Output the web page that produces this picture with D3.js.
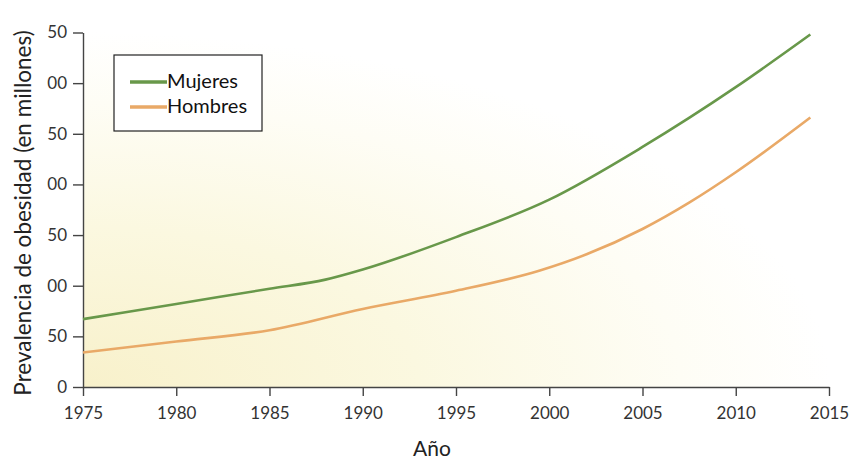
<!DOCTYPE html>
<html>
<head>
<meta charset="utf-8">
<script src="https://cdn.jsdelivr.net/npm/d3@7"></script>
<style>
  body { margin: 0; background: #fff; }
  .axis path, .axis line { stroke: #444; stroke-width: 1.4px; }
  .axis text { fill: #333; font-family: Lato, "Open Sans", sans-serif; font-size: 17px; }
</style>
</head>
<body>
<div id="chart"></div>
<script>
// data
var womenYears = [1975, 1980, 1985, 1988, 1990, 1995, 2000, 2005, 2010, 2014];
var womenValues = [67, 82, 97, 106, 116, 148, 185, 237, 296, 348];
var menYears = [1975, 1980, 1985, 1990, 1995, 1999.5, 2002, 2005, 2007.5, 2010, 2014];
var menValues = [34, 45, 56, 77, 95, 115, 131, 156, 182, 212, 266];
var seriesNames = ["Mujeres", "Hombres"];
var xTicks = [1975, 1980, 1985, 1990, 1995, 2000, 2005, 2010, 2015];
var yTicks = [0, 50, 100, 150, 200, 250, 300, 350];
// the labels are cut off on the left in the original
var yTickLabels = ["0", "50", "00", "50", "00", "50", "00", "50"];

var W = 850, H = 459;
var margin = { left: 83, top: 32, right: 19, bottom: 72 };
var width = W - margin.left - margin.right;
var height = H - margin.top - margin.bottom;

var colors = { Mujeres: "#68984a", Hombres: "#e9a967" };

var svg = d3.select("#chart").append("svg")
    .attr("width", W)
    .attr("height", H);

var defs = svg.append("defs");
var grad = defs.append("radialGradient")
    .attr("id", "glow")
    .attr("cx", 0).attr("cy", 1).attr("r", 1)
    .attr("fx", 0).attr("fy", 1);
grad.append("stop").attr("offset", 0).attr("stop-color", "#f8f1cb");
grad.append("stop").attr("offset", 0.45).attr("stop-color", "#fbf8e0");
grad.append("stop").attr("offset", 0.8).attr("stop-color", "#fefdf5");
grad.append("stop").attr("offset", 1).attr("stop-color", "#ffffff");

var g = svg.append("g")
    .attr("transform", "translate(" + margin.left + "," + margin.top + ")");

g.append("rect")
    .attr("width", width)
    .attr("height", height)
    .attr("fill", "url(#glow)");

var x = d3.scaleLinear().domain([1975, 2015]).range([0, width - 2]);
var y = d3.scaleLinear().domain([0, 350]).range([height, 0.5]);

var xAxis = d3.axisBottom(x)
    .tickValues(xTicks)
    .tickFormat(d3.format("d"))
    .tickSizeInner(9).tickSizeOuter(0).tickPadding(11);

var yAxis = d3.axisLeft(y)
    .tickValues(yTicks)
    .tickFormat(function(d, i) { return yTickLabels[i]; })
    .tickSizeInner(10).tickSizeOuter(0).tickPadding(6);

g.append("g").attr("class", "axis")
    .attr("transform", "translate(0," + height + ")")
    .call(xAxis);

g.append("g").attr("class", "axis")
    .call(yAxis);

var line = d3.line()
    .curve(d3.curveMonotoneX)
    .x(function(d) { return x(d[0]); })
    .y(function(d) { return y(d[1]); });

var women = d3.zip(womenYears, womenValues);
var men = d3.zip(menYears, menValues);

g.append("path")
    .datum(men)
    .attr("fill", "none")
    .attr("stroke", colors.Hombres)
    .attr("stroke-width", 2.6)
    .attr("d", line);

g.append("path")
    .datum(women)
    .attr("fill", "none")
    .attr("stroke", colors.Mujeres)
    .attr("stroke-width", 2.6)
    .attr("d", line);

// legend
var legend = svg.append("g").attr("transform", "translate(114,55)");
legend.append("rect")
    .attr("width", 148).attr("height", 76)
    .attr("fill", "#fff")
    .attr("stroke", "#222").attr("stroke-width", 1.2);

seriesNames.forEach(function(name, i) {
    var row = legend.append("g").attr("transform", "translate(0," + (27 + i * 25) + ")");
    row.append("line")
        .attr("x1", 16).attr("x2", 53)
        .attr("stroke", colors[name])
        .attr("stroke-width", 3.5);
    row.append("text")
        .attr("x", 53).attr("y", 6)
        .attr("font-family", "Lato, 'Open Sans', sans-serif")
        .attr("font-size", 20)
        .attr("fill", "#111")
        .text(name);
});

// axis titles
svg.append("text")
    .attr("transform", "translate(31,213) rotate(-90)")
    .attr("text-anchor", "middle")
    .attr("font-family", "Lato, 'Open Sans', sans-serif")
    .attr("font-size", 22.5)
    .attr("fill", "#222")
    .text("Prevalencia de obesidad (en millones)");

svg.append("text")
    .attr("x", 432).attr("y", 456)
    .attr("text-anchor", "middle")
    .attr("font-family", "Lato, 'Open Sans', sans-serif")
    .attr("font-size", 21)
    .attr("fill", "#222")
    .text("Año");
</script>
</body>
</html>
